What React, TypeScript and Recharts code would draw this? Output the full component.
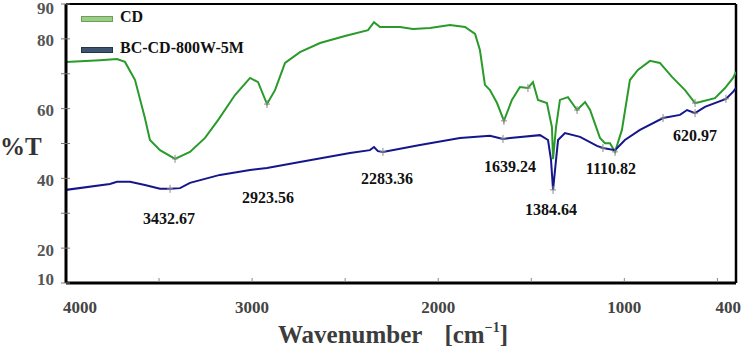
import React from 'react';
import {
  LineChart,
  Line,
  XAxis,
  YAxis,
  ReferenceDot,
  ReferenceLine,
} from 'recharts';

// CD spectrum (wavenumber cm-1, %T)
const cdWavenumber = [
  4000, 3817, 3726, 3683, 3629, 3576, 3549, 3495, 3414, 3334, 3253, 3183, 3092, 3011, 2968, 2920,
  2877, 2823, 2743, 2635, 2501, 2377, 2345, 2313, 2205, 2136, 2044, 1937, 1856, 1802, 1776, 1749,
  1722, 1684, 1647, 1604, 1561, 1518, 1491, 1464, 1416, 1389, 1383, 1367, 1346, 1303, 1254, 1211,
  1184, 1131, 1104, 1077, 1050, 1013, 970, 927, 862, 809, 744, 674, 620, 594, 513, 459, 416, 400,
];
const cdT = [
  73.4, 73.9, 74.2, 73.4, 68.2, 57.3, 51.0, 48.1, 45.6, 47.6, 51.6, 56.7, 63.9, 68.8, 67.6, 61.3,
  65.3, 73.1, 76.2, 78.8, 80.8, 82.5, 84.8, 83.4, 83.4, 82.8, 83.1, 84.0, 83.4, 81.4, 76.8, 66.8,
  65.3, 61.6, 56.5, 62.5, 66.2, 65.9, 67.6, 62.5, 61.6, 54.7, 45.5, 54.7, 62.5, 63.3, 59.6, 61.9,
  59.6, 51.6, 50.1, 50.1, 47.6, 53.9, 68.2, 71.1, 73.7, 73.1, 69.1, 65.3, 61.6, 61.9, 63.0, 65.9,
  68.8, 70.5,
];

// BC-CD-800W-5M spectrum
const bcWavenumber = [
  4000, 3764, 3726, 3656, 3576, 3495, 3441, 3387, 3334, 3173, 3011, 2920, 2743, 2474, 2367, 2345,
  2324, 2297, 2098, 1883, 1722, 1652, 1614, 1453, 1410, 1394, 1383, 1367, 1356, 1319, 1238, 1147,
  1115, 1050, 997, 916, 792, 701, 663, 620, 567, 454, 416, 400,
];
const bcT = [
  36.7, 38.4, 39.0, 39.0, 38.1, 37.0, 37.0, 37.2, 38.7, 41.0, 42.4, 43.0, 44.7, 47.3, 48.1, 49.0,
  47.8, 47.6, 49.6, 51.6, 52.2, 51.3, 51.6, 52.4, 51.0, 45.3, 36.7, 45.3, 51.0, 53.0, 51.9, 49.3,
  48.7, 48.1, 51.0, 53.9, 57.3, 58.2, 59.6, 58.7, 60.5, 62.8, 64.8, 65.9,
];

const seriesNames = ['CD', 'BC-CD-800W-5M'];

// small "+" markers sitting on the traces
const cdMarkerWn = [3414, 2920, 1647, 1518, 1254, 1050, 620];
const bcMarkerWn = [3441, 2297, 1652, 1383, 1115, 792, 620, 454];

// peak annotations
const peakLabels = ['3432.67', '2923.56', '2283.36', '1639.24', '1384.64', '1110.82', '620.97'];
const peakLabelWn = [3447, 2915, 2275, 1614, 1394, 1072, 620];
const peakLabelT = [28.4, 34.4, 40.1, 43.3, 31.2, 42.7, 52.2];

const xTicks = [4000, 3500, 3000, 2500, 2000, 1500, 1000, 500, 400];
const xTickLabels: Record<number, string> = { 4000: '4000', 3000: '3000', 2000: '2000', 1000: '1000', 400: '400' };
const yTicks = [10, 20, 30, 40, 50, 60, 70, 80, 90];
const yTickLabels: Record<number, string> = { 10: '10', 20: '20', 40: '40', 60: '60', 80: '80', 90: '90' };

const cdData = cdWavenumber.map((wn, i) => ({ wn, t: cdT[i] }));
const bcData = bcWavenumber.map((wn, i) => ({ wn, t: bcT[i] }));

const serif = '"Liberation Serif", "DejaVu Serif", serif';
const GREEN = '#2a9a2a';
const NAVY = '#16168c';

function XTick(props: any) {
  const { x, y, payload } = props;
  const label = xTickLabels[payload.value];
  let anchor = 'middle';
  let dx = 0;
  if (payload.value === 4000) { anchor = 'start'; dx = -3; }
  if (payload.value === 400) { anchor = 'end'; dx = 5; }
  return (
    <g>
      {payload.value !== 400 && payload.value !== 4000 && (
        <line x1={x} x2={x} y1={y - 1} y2={y - 5} stroke="#888" strokeWidth={1} />
      )}
      {label && (
        <text x={x + dx} y={y + 30} textAnchor={anchor} fontFamily={serif} fontWeight="bold" fontSize={17} fill="#444">
          {label}
        </text>
      )}
    </g>
  );
}

function YTick(props: any) {
  const { x, y, payload } = props;
  const label = yTickLabels[payload.value];
  let dy = 2;
  if (payload.value === 90) dy = 4;
  if (payload.value === 10) dy = -4;
  return (
    <g>
      <line x1={x - 5} x2={x + 4} y1={y} y2={y} stroke="#777" strokeWidth={1} />
      {label && (
        <text x={x - 12} y={y + dy} textAnchor="end" dominantBaseline="central" fontFamily={serif} fontWeight="bold" fontSize={17} fill="#555">
          {label}
        </text>
      )}
    </g>
  );
}

function Plus(props: any) {
  const { cx, cy } = props;
  return (
    <g stroke="#8a8a8a" strokeWidth={1}>
      <line x1={cx} x2={cx} y1={cy - 4} y2={cy + 4} />
      <line x1={cx - 3} x2={cx + 3} y1={cy} y2={cy} />
    </g>
  );
}

function LegendBox() {
  const swatches = [
    { fill: '#9ccc87', border: '#6aa155', top: 16 },
    { fill: '#3d556e', border: '#22364a', top: 47 },
  ];
  return (
    <div style={{ position: 'absolute', left: 0, top: 0, width: 300, height: 60 }}>
      {seriesNames.map((name, i) => (
        <div key={name}>
          <div
            style={{
              position: 'absolute',
              left: 81,
              top: swatches[i].top,
              width: 30,
              height: 4,
              background: swatches[i].fill,
              border: `1px solid ${swatches[i].border}`,
            }}
          />
          <div
            style={{
              position: 'absolute',
              left: 120,
              top: swatches[i].top - 9,
              fontFamily: serif,
              fontWeight: 'bold',
              fontSize: 16,
              lineHeight: '20px',
              color: '#111',
              whiteSpace: 'nowrap',
            }}
          >
            {name}
          </div>
        </div>
      ))}
    </div>
  );
}

function XTitle(props: any) {
  const { viewBox } = props;
  const cx = viewBox.x + viewBox.width / 2 - 8;
  return (
    <text x={cx} y={viewBox.y + 60} textAnchor="middle" fontFamily={serif} fontWeight="bold" fontSize={25} fill="#3c3c3c">
      Wavenumber
      <tspan dx={22}>[cm</tspan>
      <tspan fontSize={14} dy={-11}>−1</tspan>
      <tspan dy={11}>]</tspan>
    </text>
  );
}

export default function App() {
  const cdY = (wn: number) => cdT[cdWavenumber.indexOf(wn)];
  const bcY = (wn: number) => bcT[bcWavenumber.indexOf(wn)];

  return (
    <div style={{ position: 'relative', width: 742, height: 351, background: '#fff' }}>
      <style>{'body{margin:0}'}</style>
      <LineChart width={742} height={351} margin={{ top: 4, right: 6, bottom: 0, left: 0 }}>
        <XAxis
          type="number"
          dataKey="wn"
          domain={[400, 4000]}
          reversed
          allowDataOverflow
          ticks={xTicks}
          interval={0}
          tick={<XTick />}
          tickLine={false}
          tickSize={0}
          tickMargin={0}
          height={68}
          axisLine={{ stroke: '#000', strokeWidth: 3 }}
          label={{ content: <XTitle /> }}
        />
        <YAxis
          type="number"
          domain={[10, 90]}
          allowDataOverflow
          ticks={yTicks}
          interval={0}
          tick={<YTick />}
          tickLine={false}
          tickSize={0}
          tickMargin={0}
          width={66}
          axisLine={{ stroke: '#000', strokeWidth: 3 }}
          label={{
            value: '%T',
            position: 'insideLeft',
            offset: 0,
            dy: 3,
            style: { fontFamily: serif, fontWeight: 'bold', fontSize: 25, fill: '#333', textAnchor: 'start' },
          }}
        />
        <ReferenceLine y={90} stroke="#000" strokeWidth={2} />
        <ReferenceLine x={400} stroke="#000" strokeWidth={2.5} />
        <Line
          name={seriesNames[0]}
          data={cdData}
          dataKey="t"
          type="linear"
          stroke={GREEN}
          strokeWidth={2}
          dot={false}
          isAnimationActive={false}
        />
        <Line
          name={seriesNames[1]}
          data={bcData}
          dataKey="t"
          type="linear"
          stroke={NAVY}
          strokeWidth={2}
          dot={false}
          isAnimationActive={false}
        />
        {cdMarkerWn.map((wn) => (
          <ReferenceDot key={`cd-${wn}`} x={wn} y={cdY(wn)} shape={<Plus />} />
        ))}
        {bcMarkerWn.map((wn) => (
          <ReferenceDot key={`bc-${wn}`} x={wn} y={bcY(wn)} shape={<Plus />} />
        ))}
        {peakLabels.map((text, i) => (
          <ReferenceDot
            key={text}
            x={peakLabelWn[i]}
            y={peakLabelT[i]}
            shape={(p: any) => (
              <text x={p.cx} y={p.cy} textAnchor="middle" dominantBaseline="central" fontFamily={serif} fontWeight="bold" fontSize={16} fill="#111">
                {text}
              </text>
            )}
          />
        ))}
      </LineChart>
      <LegendBox />
    </div>
  );
}
